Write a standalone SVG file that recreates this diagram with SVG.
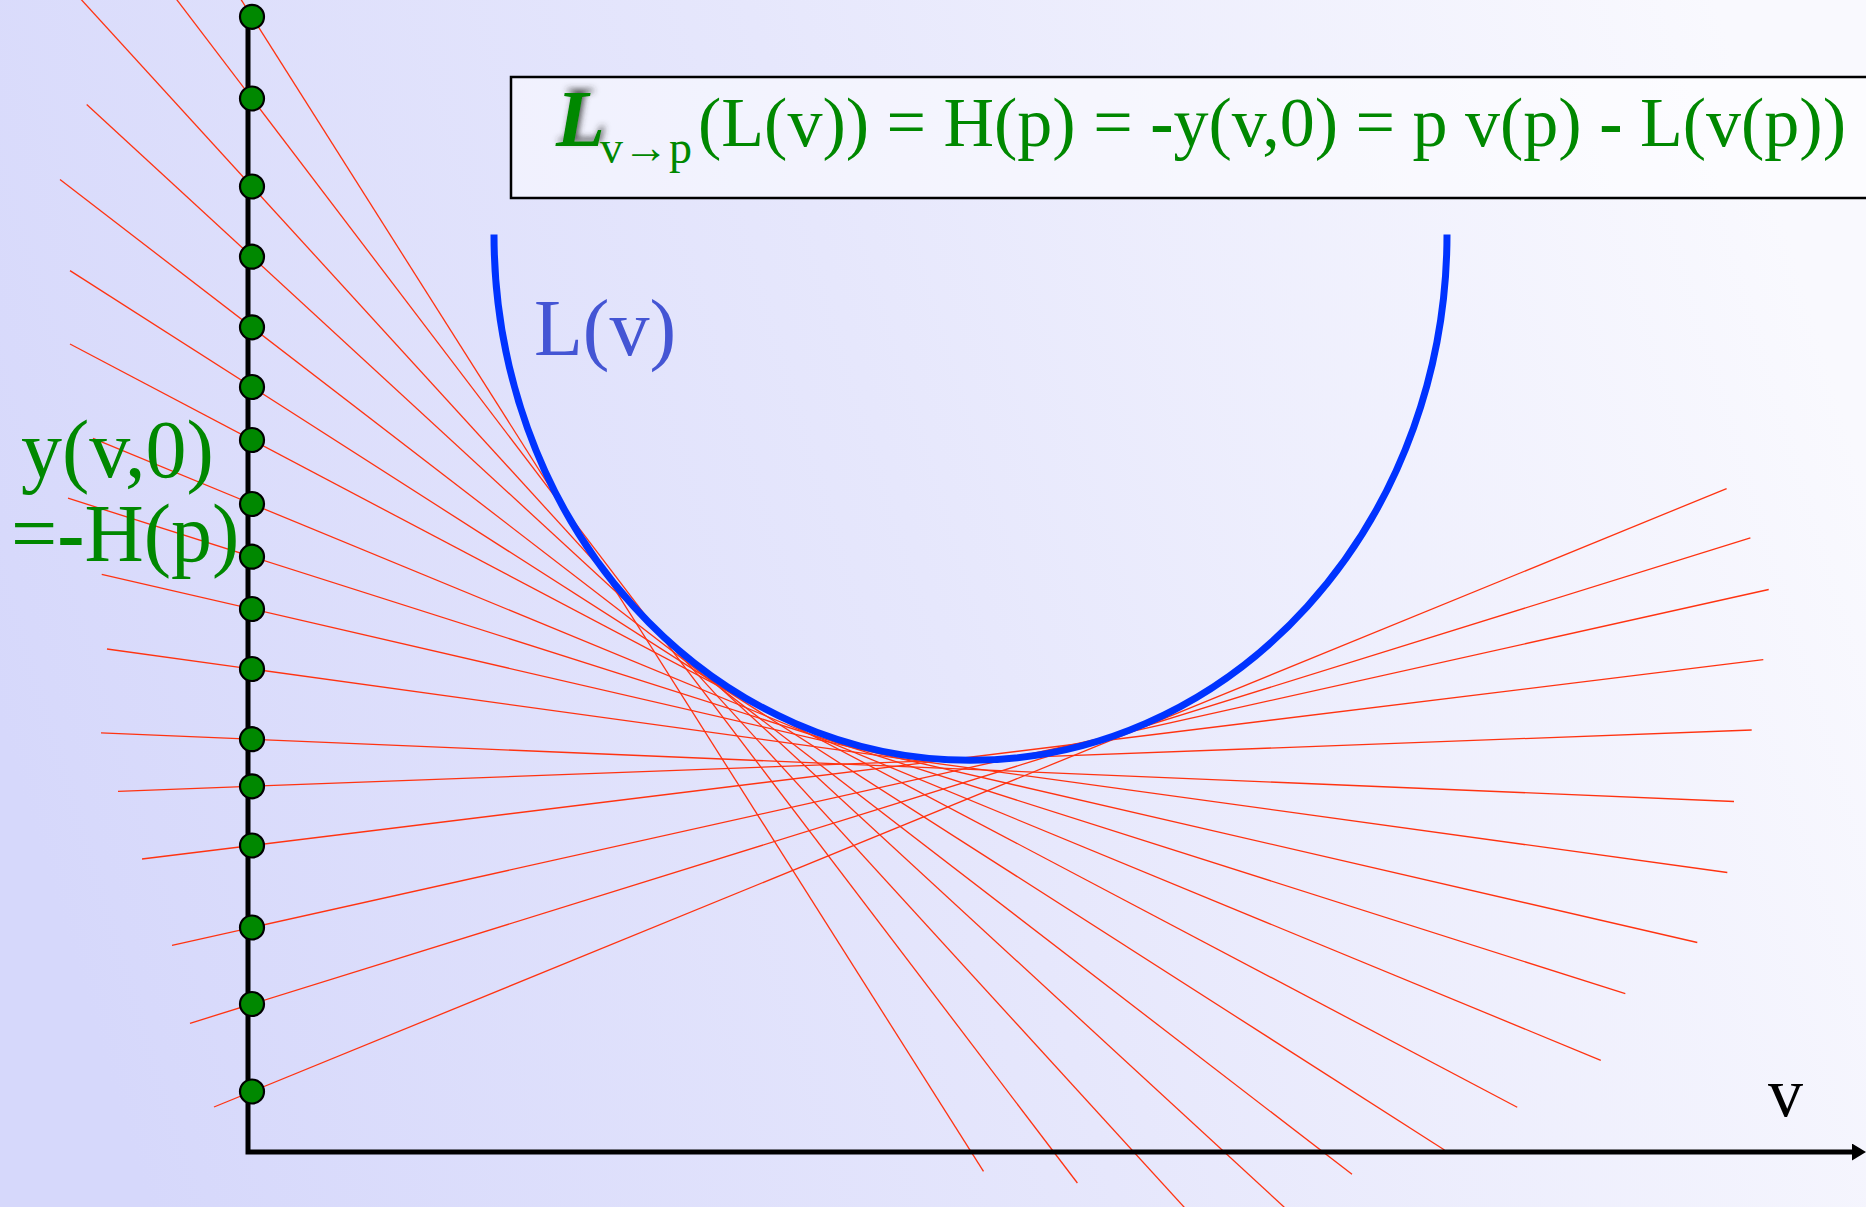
<svg xmlns="http://www.w3.org/2000/svg" width="1866" height="1207" viewBox="0 0 1866 1207">
  <defs>
    <linearGradient id="bg" x1="0" y1="0.6" x2="1" y2="0.4">
      <stop offset="0" stop-color="#d6d8fb"/>
      <stop offset="0.5" stop-color="#e6e7fc"/>
      <stop offset="1" stop-color="#f9f9fe"/>
    </linearGradient>
    <filter id="shadow" x="-50%" y="-50%" width="200%" height="200%">
      <feGaussianBlur in="SourceAlpha" stdDeviation="3"/>
      <feOffset dx="3" dy="-4" result="ob"/>
      <feFlood flood-color="#333" flood-opacity="0.85"/>
      <feComposite in2="ob" operator="in" result="sh"/>
      <feMerge>
        <feMergeNode in="sh"/>
        <feMergeNode in="SourceGraphic"/>
      </feMerge>
    </filter>
    <marker id="arrow" viewBox="0 0 14 17" refX="0" refY="8.5" markerWidth="14" markerHeight="17" markerUnits="userSpaceOnUse" orient="auto">
      <path d="M0 0 L14 8.5 L0 17 Z" fill="#000"/>
    </marker>
  </defs>
  <style>
    .tan { stroke: #ff3311; stroke-width: 1.3; fill: none; }
    .dot { fill: #008800; stroke: #000; stroke-width: 2.2; }
    .axis { stroke: #000; stroke-width: 5; fill: none; }
    .serif { font-family: "Liberation Serif", "Times New Roman", serif; }
    .green { fill: #008800; }
  </style>

  <rect id="background" x="0" y="0" width="1866" height="1207" fill="url(#bg)"/>

  <g id="formula-box">
    <rect x="511" y="77" width="1370" height="121" fill="#ffffff" fill-opacity="0.5" stroke="#000" stroke-width="2.5"/>
    <text class="serif green" x="556" y="146" font-size="80" font-weight="bold" font-style="italic" filter="url(#shadow)">L</text>
    <text class="serif green" x="600" y="163" font-size="46">v→p</text>
    <text class="serif green" x="698" y="146" font-size="70">(L(v)) = H(p) = <tspan font-weight="bold">-</tspan>y(v,0) = p v(p) <tspan font-weight="bold">-</tspan> L(v(p))</text>
  </g>

  <g id="tangent-lines">
    <line class="tan" x1="235.0" y1="-10" x2="983.5" y2="1171.4"/>
    <line class="tan" x1="169.4" y1="-10" x2="1077.4" y2="1183"/>
    <line class="tan" x1="72.5" y1="-10" x2="1205" y2="1230"/>
    <line class="tan" x1="86.7" y1="104.5" x2="1309" y2="1230"/>
    <line class="tan" x1="60" y1="179.5" x2="1352" y2="1174.3"/>
    <line class="tan" x1="70" y1="270.6" x2="1444.5" y2="1150"/>
    <line class="tan" x1="70" y1="344.0" x2="1517.2" y2="1107.2"/>
    <line class="tan" x1="93" y1="438.4" x2="1600.8" y2="1060.3"/>
    <line class="tan" x1="68" y1="498.2" x2="1625.3" y2="993.7"/>
    <line class="tan" x1="101.7" y1="574.3" x2="1697.3" y2="942.5"/>
    <line class="tan" x1="107" y1="649" x2="1727.3" y2="872.5"/>
    <line class="tan" x1="101" y1="732.9" x2="1734" y2="801.5"/>
    <line class="tan" x1="118" y1="791.3" x2="1751.7" y2="730"/>
    <line class="tan" x1="142" y1="859.0" x2="1763.3" y2="659.6"/>
    <line class="tan" x1="172" y1="945.3" x2="1768.7" y2="589.5"/>
    <line class="tan" x1="190" y1="1023.3" x2="1750.4" y2="537.9"/>
    <line class="tan" x1="214" y1="1107.0" x2="1726.6" y2="488.6"/>
  </g>

  <g id="curve">
    <path d="M494 234.5 A476.5 526 0 0 0 1447 234.5" fill="none" stroke="#0033ff" stroke-width="7"/>
    <text class="serif" x="534" y="355" font-size="80" fill="#4455d4">L(v)</text>
  </g>

  <g id="axes">
    <path class="axis" d="M248 20 V1152 H1852" marker-end="url(#arrow)"/>
    <text class="serif" x="1768" y="1116" font-size="70" fill="#000">v</text>
  </g>

  <g id="dots">
    <g id="dot-1"><circle class="dot" cx="252" cy="16.8" r="12"/></g>
    <g id="dot-2"><circle class="dot" cx="252" cy="98.5" r="12"/></g>
    <g id="dot-3"><circle class="dot" cx="252" cy="186.5" r="12"/></g>
    <g id="dot-4"><circle class="dot" cx="252" cy="256.7" r="12"/></g>
    <g id="dot-5"><circle class="dot" cx="252" cy="327.3" r="12"/></g>
    <g id="dot-6"><circle class="dot" cx="252" cy="387" r="12"/></g>
    <g id="dot-7"><circle class="dot" cx="252" cy="440" r="12"/></g>
    <g id="dot-8"><circle class="dot" cx="252" cy="504" r="12"/></g>
    <g id="dot-9"><circle class="dot" cx="252" cy="556.7" r="12"/></g>
    <g id="dot-10"><circle class="dot" cx="252" cy="609" r="12"/></g>
    <g id="dot-11"><circle class="dot" cx="252" cy="669" r="12"/></g>
    <g id="dot-12"><circle class="dot" cx="252" cy="739.2" r="12"/></g>
    <g id="dot-13"><circle class="dot" cx="252" cy="786.3" r="12"/></g>
    <g id="dot-14"><circle class="dot" cx="252" cy="845.5" r="12"/></g>
    <g id="dot-15"><circle class="dot" cx="252" cy="927.5" r="12"/></g>
    <g id="dot-16"><circle class="dot" cx="252" cy="1004" r="12"/></g>
    <g id="dot-17"><circle class="dot" cx="252" cy="1091.5" r="12"/></g>
  </g>

  <g id="intercept-label">
    <text class="serif green" x="21" y="477" font-size="82">y(v,0)</text>
    <text class="serif green" x="11" y="561" font-size="82">=<tspan font-weight="bold">-</tspan>H(p)</text>
  </g>
</svg>
